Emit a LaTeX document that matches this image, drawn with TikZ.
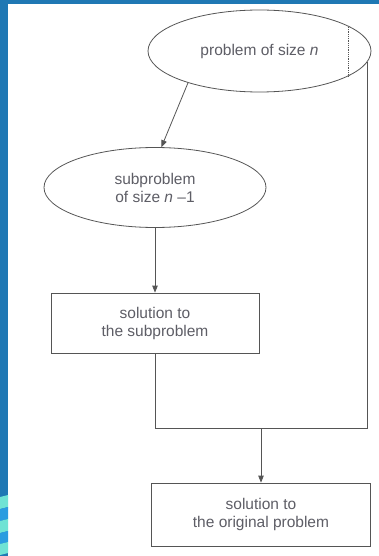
\documentclass[tikz,border=0pt]{standalone}
\usepackage{fontspec}
\setmainfont{Liberation Sans}
\usetikzlibrary{shapes.geometric,arrows.meta}
\definecolor{framebl}{HTML}{1F78B4}
\definecolor{stripec}{HTML}{6FE3D4}
\definecolor{stripeb}{HTML}{2A9CE0}
\definecolor{ink}{HTML}{555555}
\definecolor{txt}{HTML}{5E5E66}
\begin{document}
\begin{tikzpicture}[x=1pt,y=-1pt,
  every node/.style={font=\fontsize{15.5}{18}\selectfont, text=txt, align=center},
  ell/.style={draw=ink, line width=0.8pt, ellipse, inner sep=0pt},
  boxnode/.style={draw=ink, line width=0.8pt, rectangle, inner sep=0pt},
  conn/.style={draw=ink, line width=0.8pt},
  arr/.style={conn, -{Triangle[length=7pt,width=5.5pt]}}]
\useasboundingbox (0,0) rectangle (379,556);
\fill[white] (0,0) rectangle (379,556);
% frame
\fill[framebl] (0,0) rectangle (379,4);
\fill[framebl] (0,0) rectangle (8,556);
\fill[stripec] (0,497) -- (8,495) -- (8,507) -- (0,509) -- cycle;
\fill[stripeb] (0,509) -- (8,507) -- (8,519) -- (0,521) -- cycle;
\fill[stripec] (0,521) -- (8,519) -- (8,531) -- (0,533) -- cycle;
\fill[stripeb] (0,533) -- (8,531) -- (8,542) -- (0,544) -- cycle;
\fill[stripec] (0,544) -- (8,542) -- (8,553) -- (0,555) -- cycle;
% nodes
\node[ell, minimum width=223pt, minimum height=82pt] (big) at (259.5,51) {problem of size \textit{n}};
\node[ell, minimum width=222pt, minimum height=80pt] (sub) at (155,187.5) {subproblem\\of size \textit{n} –1};
\node[boxnode, minimum width=208pt, minimum height=60pt] (sol1) at (155,323) {solution to\\the subproblem};
\node[boxnode, minimum width=219pt, minimum height=63pt] (sol2) at (261,514.5) {solution to\\the original problem};
\coordinate (j) at (261,428);
% dotted divider in the big ellipse
\draw[ink, line width=0.8pt, densely dotted] (348,27) -- (348,76);
% connectors
\draw[arr] (big.204) -- (sub.81);
\draw[arr] (sub.south) -- (sol1.north);
\draw[conn] (sol1.south) |- (big.-6 |- j) -- (big.-6);
\draw[arr] (j) -- (sol2.north);
\end{tikzpicture}
\end{document}
